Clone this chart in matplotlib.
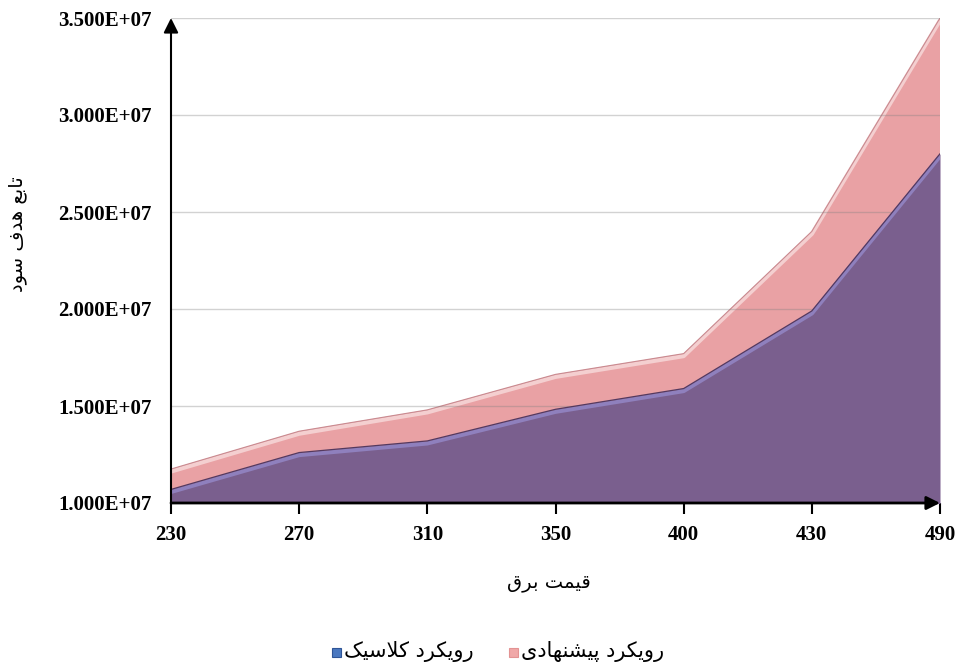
import matplotlib
matplotlib.use('Agg')
import matplotlib.pyplot as plt
import matplotlib.transforms as mtransforms
from matplotlib.patches import Rectangle
from matplotlib.ticker import FuncFormatter

# data
prices = ['230', '270', '310', '350', '400', '430', '490']
classic = [1.07e7, 1.26e7, 1.32e7, 1.483e7, 1.59e7, 1.99e7, 2.80e7]
proposed = [1.175e7, 1.37e7, 1.48e7, 1.663e7, 1.77e7, 2.40e7, 3.50e7]
yticks = [1.0e7, 1.5e7, 2.0e7, 2.5e7, 3.0e7, 3.5e7]

# persian text, pre-shaped presentation forms in logical order; reversed for display
ylab = '\uFE97\uFE8E\uFE91\uFECA \uFEEB\uFEAA\uFED1 \uFEB3\uFEEE\uFEA9'[::-1]
xlab = '\uFED7\uFEF4\uFEE4\uFE96 \uFE91\uFEAE\uFED5'[::-1]
lab_classic = '\uFEAD\uFEED\uFEF3\uFB91\uFEAE\uFEA9 \uFB90\uFEFC\uFEB3\uFEF4\uFB8F'[::-1]
lab_proposed = '\uFEAD\uFEED\uFEF3\uFB91\uFEAE\uFEA9 \uFB58\uFEF4\uFEB8\uFEE8\uFEEC\uFE8E\uFEA9\uFEEF'[::-1]

W, H = 959, 666
fig = plt.figure(figsize=(W / 100, H / 100), dpi=100)
ax = fig.add_axes([171 / W, (H - 503) / H, (940 - 171) / W, (503 - 18) / H])

x = list(range(len(prices)))
pink = '#e9a1a4'
purple = '#7a5f8e'

ax.fill_between(x, 0, proposed, color=pink, lw=0, zorder=1)
ax.plot(x, proposed, color='#c98a90', lw=0.8, zorder=1.2)
off = mtransforms.offset_copy(ax.transData, fig=fig, x=0, y=-2.5, units='dots')
ax.plot(x, proposed, color='#f4cfd0', lw=3, zorder=1.1, transform=off, solid_capstyle='butt')

for v in yticks[1:]:
    ax.axhline(v, color='gray', alpha=0.35, lw=1, zorder=1.5)

ax.fill_between(x, 0, classic, color=purple, lw=0, zorder=2)
ax.plot(x, classic, color='#8f80bd', lw=3, zorder=2.1, transform=off, solid_capstyle='butt')
ax.plot(x, classic, color='#54395f', lw=0.9, zorder=2.2)

ax.set_xlim(0, len(prices) - 1)
ax.set_ylim(1.0e7, 3.5e7)
for s in ax.spines.values():
    s.set_visible(False)

ax.set_xticks(x)
ax.set_xticklabels(prices)
ax.set_yticks(yticks)
ax.yaxis.set_major_formatter(FuncFormatter(lambda v, p: f'{v:.3E}'))
ax.tick_params(axis='y', length=0, pad=14)
ax.tick_params(axis='x', length=8, width=1.5, pad=8, direction='out')
for t in ax.get_xticklabels() + ax.get_yticklabels():
    t.set_fontfamily('Liberation Serif')
    t.set_fontweight('bold')
    t.set_fontsize(15)

# axes with arrow heads
ax.annotate('', xy=(0, 1), xytext=(0, 0), xycoords='axes fraction',
            arrowprops=dict(arrowstyle='-|>', color='black', lw=1.5, mutation_scale=22,
                            shrinkA=0, shrinkB=0), annotation_clip=False, zorder=5)
ax.annotate('', xy=(1, 0), xytext=(0, 0), xycoords='axes fraction',
            arrowprops=dict(arrowstyle='-|>', color='black', lw=2, mutation_scale=20,
                            shrinkA=0, shrinkB=0), annotation_clip=False, zorder=5)

fig.text(18 / W, 1 - 234 / H, ylab, rotation=90, ha='center', va='center',
         fontsize=14, family=['DejaVu Sans'])
fig.text(549 / W, 1 - 582 / H, xlab, ha='center', va='center',
         fontsize=14, family=['DejaVu Sans'])

# legend
ly = 1 - 652 / H
fig.add_artist(Rectangle((332 / W, 1 - 657 / H), 9 / W, 9 / H, transform=fig.transFigure,
                         facecolor='#4a78c0', edgecolor='#2f5597', lw=0.8))
fig.text(344 / W, ly, lab_classic, ha='left', va='center', fontsize=15, family=['DejaVu Sans'])
fig.add_artist(Rectangle((509 / W, 1 - 657 / H), 9 / W, 9 / H, transform=fig.transFigure,
                         facecolor='#f0a8a8', edgecolor='#e39393', lw=0.8))
fig.text(521 / W, ly, lab_proposed, ha='left', va='center', fontsize=15, family=['DejaVu Sans'])

fig.savefig('out.png', dpi=100)
